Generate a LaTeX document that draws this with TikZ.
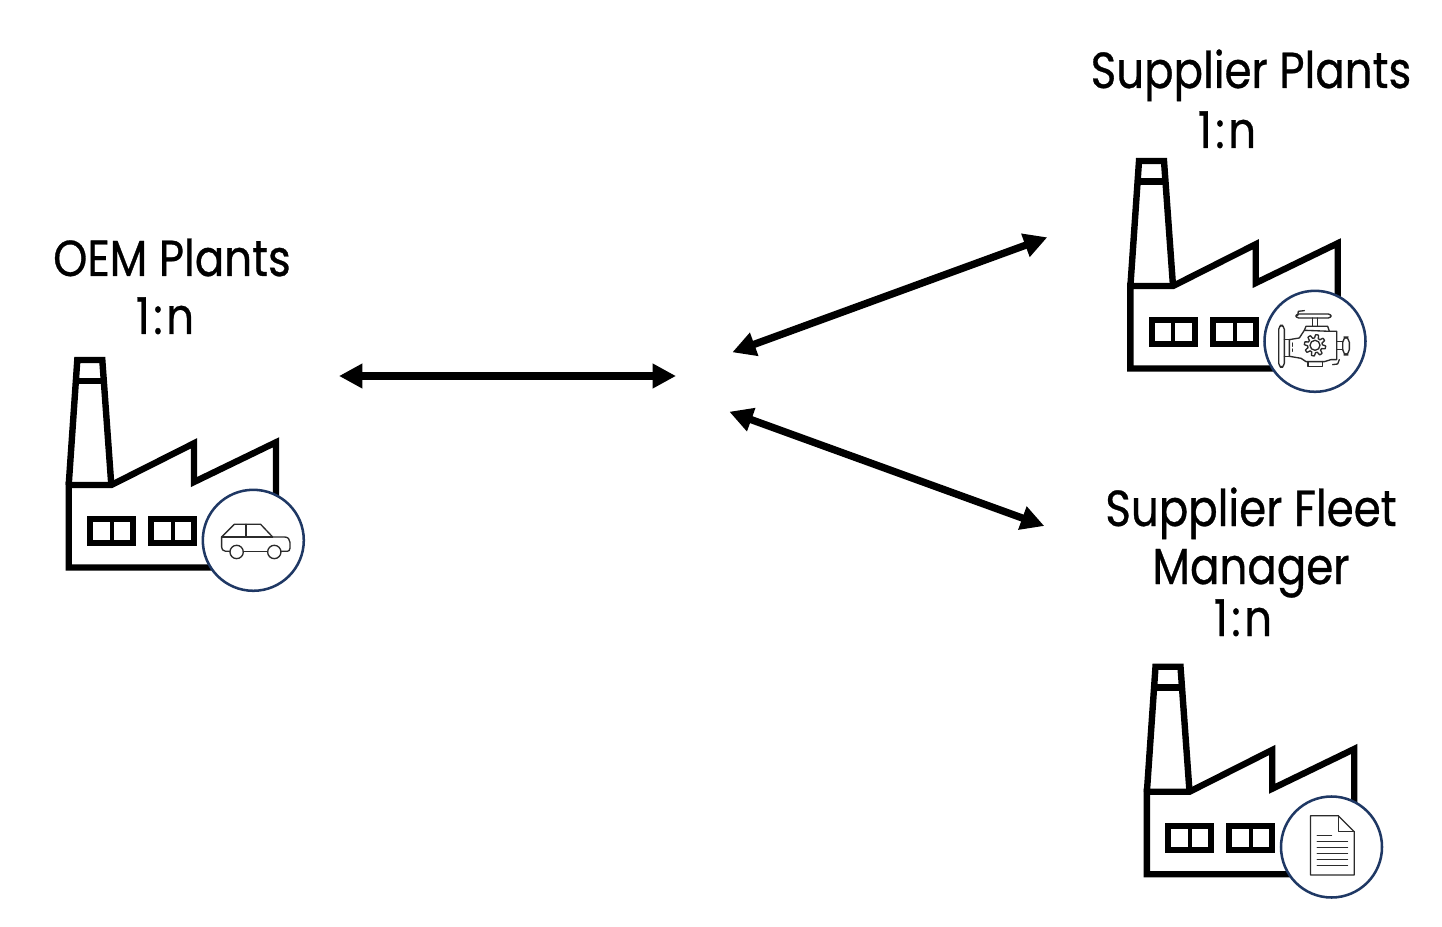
\documentclass[tikz,border=0pt]{standalone}
\usepackage{fontspec}
\setmainfont[FakeStretch=0.86,FakeBold=0.6]{Poppins}
\usetikzlibrary{arrows.meta}
\definecolor{badge}{HTML}{1F3864}
\definecolor{ink}{HTML}{000000}
\definecolor{iconink}{HTML}{2B2B2B}
\tikzset{
  wall/.style={draw=ink,line width=4.8pt,miter limit=10},
  thinwall/.style={draw=ink,line width=3pt},
  badgecircle/.style={circle,draw=badge,fill=white,line width=1.9pt,minimum size=75.75pt,inner sep=0pt},
  iconline/.style={draw=iconink,line width=1pt,line join=round,line cap=round},
  link/.style={{Triangle[length=17.5pt,width=17.5pt]}-{Triangle[length=17.5pt,width=17.5pt]},line width=5.5pt,draw=black},
  title/.style={font=\fontsize{38pt}{43.5pt}\selectfont,anchor=base,align=center,inner sep=0pt},
  ratio/.style={title,font=\fontsize{38pt}{43.5pt}\selectfont\addfontfeature{LetterSpace=7}},
  factory/.pic={
    \path[wall] (-184.6,27.2) -- (-184.6,-55.3) -- (-142,-55.3) -- (-59.3,-97) -- (-59.3,-58.3) -- (22.7,-98) -- (22.7,27.2) -- cycle;
    \path[wall,line join=miter] (-184.6,-55.3) -- (-176,-180.3) -- (-151,-180.3) -- (-142,-55.3);
    \path[wall] (-177.5,-159.6) -- (-149.5,-159.6);
    \path[wall] (-163.3,-21.3) rectangle (-120.3,2.7);
    \path[thinwall] (-141.6,-21.3) -- (-141.6,2.7);
    \path[wall] (-102.3,-21.3) rectangle (-59.3,2.7);
    \path[thinwall] (-80.3,-21.3) -- (-80.3,2.7);
    \node[badgecircle] (-badge) at (0,0) {};
  },
  car/.pic={
    \begin{scope}[scale=1/3,shift={(-610,-600)}]
      \path[iconline] (540,633) -- (527,633) .. controls (518,633) and (515,626) .. (515,620) -- (515,590) -- (553,552) -- (632,552) -- (668,590) -- (703,590) .. controls (714,590) and (720,597) .. (720,606) -- (720,624) .. controls (720,630) and (716,633) .. (712,633) -- (693,633);
      \path[iconline] (580,633) -- (653,633);
      \path[iconline] (515,590) -- (668,590);
      \path[iconline] (588,552) -- (588,590);
      \path[iconline] (560,635) circle (20);
      \path[iconline] (673,635) circle (20);
    \end{scope}
  },
  engine/.pic={
    \begin{scope}[scale=1/3,shift={(-197,-185)}]
      \path[iconline,rounded corners=3pt] (88,137) rectangle (105,263);
      \path[iconline] (105,180) -- (120,180) (105,230) -- (120,230);
      \path[iconline] (120,180) -- (150,175) -- (165,152) -- (240,155) -- (262,155) -- (262,240) -- (245,240) -- (225,246) -- (170,246) -- (155,236) -- (120,230) -- cycle;
      \path[iconline,rounded corners=2pt] (140,103) rectangle (245,115);
      \path[iconline] (190,115) -- (190,140) (205,115) -- (205,140);
      \path[iconline] (165,152) -- (170,140) -- (235,140) -- (240,155);
      \path[iconline] (176,246) -- (176,260) -- (220,260) -- (220,246);
      \path[iconline] (262,185) -- (280,185) (262,210) -- (280,210);
      \path[iconline,rounded corners=4pt] (280,172) -- (300,172) -- (300,226) -- (280,226) -- cycle;
      \path[iconline] (145,108) -- (147,95) -- (165,93);
      \path[iconline] (250,255) -- (265,253) -- (270,240);
      \path[iconline] (130,190) -- (130,200) (130,208) -- (130,215);
      \begin{scope}[shift={(197,197)}]
        \path[iconline] plot[samples=97,domain=0:360,variable=\t] (\t:{27+5*min(1,max(-1,3*sin(8*\t)))}) -- cycle;
        \path[iconline] (0,0) circle (15);
      \end{scope}
    \end{scope}
  },
  document/.pic={
    \begin{scope}[scale=1/3,shift={(-185,-186)}]
      \path[iconline] (122,92) -- (205,92) -- (253,140) -- (253,270) -- (122,270) -- cycle;
      \path[iconline] (205,92) -- (205,140) -- (253,140);
      \path[iconline] (142,152) -- (185,152);
      \foreach \ly in {170,188,206,224,242} {
        \path[iconline] (142,\ly) -- (233,\ly);
      }
    \end{scope}
  }
}
\begin{document}
\begin{tikzpicture}[x=0.75pt,y=-0.75pt]
  \useasboundingbox (0,0) rectangle (1442,927);

  \pic (oem) at (253.3,540.3) {factory};
  \pic at (253.3,540.3) {car};
  \pic (plant) at (1315,341.3) {factory};
  \pic at (1315,341.3) {engine};
  \pic (fleet) at (1331.5,847) {factory};
  \pic at (1331.5,847) {document};

  \node[title] (oemtitle) at (172,276) {OEM Plants};
  \node[ratio] (oemratio) at (165,334) {1:n};
  \node[title] (planttitle) at (1251,88) {Supplier Plants};
  \node[ratio] (plantratio) at (1227,148) {1:n};
  \node[title] (fleettitle) at (1251,584) {Supplier Fleet\\Manager};
  \node[ratio] (fleetratio) at (1243,636) {1:n};

  \coordinate (a1) at (339,376);
  \coordinate (a2) at (676,376);
  \coordinate (b1) at (732.3,352.3);
  \coordinate (b2) at (1047.3,237.3);
  \coordinate (c1) at (729.3,411.7);
  \coordinate (c2) at (1044.3,526);
  \draw[link] (a1) -- (a2);
  \draw[link] (b1) -- (b2);
  \draw[link] (c1) -- (c2);
\end{tikzpicture}
\end{document}
